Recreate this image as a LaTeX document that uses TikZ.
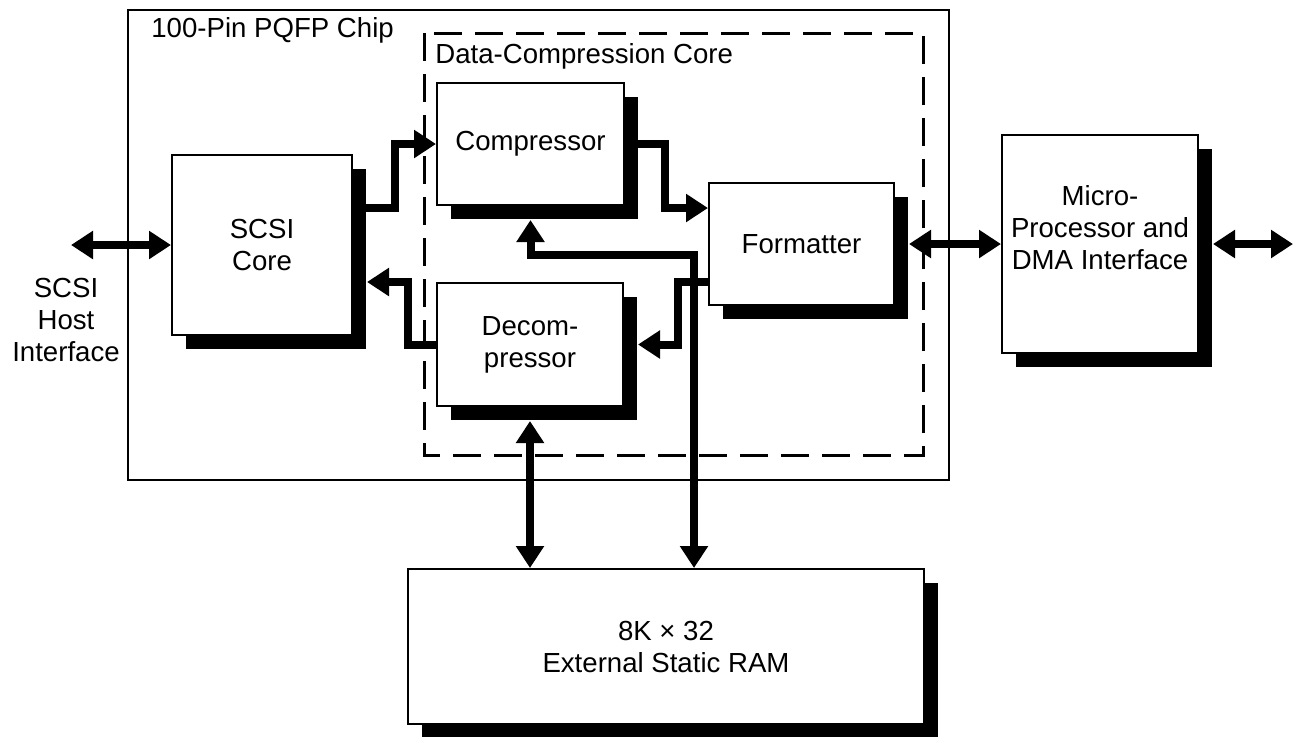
\documentclass[tikz,border=0pt]{standalone}
\usepackage{fontspec}
\setmainfont{Liberation Sans}
\usetikzlibrary{arrows.meta,shadows,calc}
\tikzset{
  box/.style={draw=black, line width=1pt, fill=white, inner sep=0pt,
    drop shadow={shadow xshift=7pt, shadow yshift=-7pt, fill=black, opacity=1},
    align=center, font=\fontsize{13.8pt}{16pt}\selectfont},
  txt/.style={align=center, inner sep=0pt, font=\fontsize{13.8pt}{16pt}\selectfont},
  arr/.style={line width=4pt, -{Triangle[length=11pt,width=13.5pt]}},
  dbl/.style={line width=4pt, {Triangle[length=11pt,width=13.5pt]}-{Triangle[length=11pt,width=13.5pt]}},
  chipbox/.style={draw=black, line width=1pt},
  corebox/.style={draw=black, line width=1.5pt, dash pattern=on 14pt off 6.5pt}
}
\begin{document}
\begin{tikzpicture}[x=0.5pt,y=-0.5pt]
\useasboundingbox (0,0) rectangle (1296,736);
% chip and core outlines
\draw[chipbox] (128,10) rectangle (949,480);
\node[txt, anchor=west] (chiplabel) at (151,30) {100-Pin PQFP Chip};
\draw[corebox] (424,33) rectangle (923,455);
\node[txt, anchor=west] (corelabel) at (435,56) {Data-Compression Core};
% blocks
\node[box, minimum width=90pt, minimum height=90pt] (scsi) at (262,245) {SCSI\\Core};
\node[box, minimum width=93.5pt, minimum height=61pt] (comp) at (530.5,144) {Compressor};
\node[box, minimum width=93pt, minimum height=61.5pt] (decomp) at (530,344.5) {Decom-\\pressor};
\node[box, minimum width=92.5pt, minimum height=61pt] (fmt) at (801.5,244) {Formatter};
\node[box, minimum width=98pt, minimum height=109pt] (mp) at (1100,244) {};
\node[txt] (mptext) at ([yshift=8pt]mp.center) {Micro-\\Processor and\\DMA Interface};
\node[box, minimum width=258pt, minimum height=77.5pt] (ram) at (666,646.5) {8K × 32\\External Static RAM};
\node[txt] (host) at (66,320) {SCSI\\Host\\Interface};
% shadow edge coordinates
\coordinate (scsiS) at ($(scsi.east)+(14,0)$);
\coordinate (compSB) at ($(comp.south)+(0,14)$);
\coordinate (decompS) at ($(decomp.east)+(14,0)$);
\coordinate (decompSB) at ($(decomp.south)+(0,14)$);
\coordinate (fmtS) at ($(fmt.east)+(14,0)$);
\coordinate (mpS) at ($(mp.east)+(14,0)$);
\coordinate (hostend) at (71,245);
\coordinate (mpend) at (1293,244);
% connectors
\draw[dbl] (hostend) -- (scsi.west);
\draw[arr] (scsi.east |- 0,208) -- (395,208) -- (395,144) -- (comp.west);
\draw[arr] (decomp.west) -- (408,344.5) -- (408,282) -- (scsiS |- 0,282);
\draw[arr] (comp.east) -- (665,144) -- (665,208) -- (fmt.west |- 0,208);
\draw[arr] (fmt.west |- 0,282) -- (678,282) -- (678,344.5) -- (decompS);
\draw[dbl] (compSB) -- (530.5,255) -- (694,255) -- (694,255 |- ram.north);
\draw[dbl] (decompSB) -- (decompSB |- ram.north);
\draw[dbl] (fmtS) -- (mp.west);
\draw[dbl] (mpS) -- (mpend);
\end{tikzpicture}
\end{document}
